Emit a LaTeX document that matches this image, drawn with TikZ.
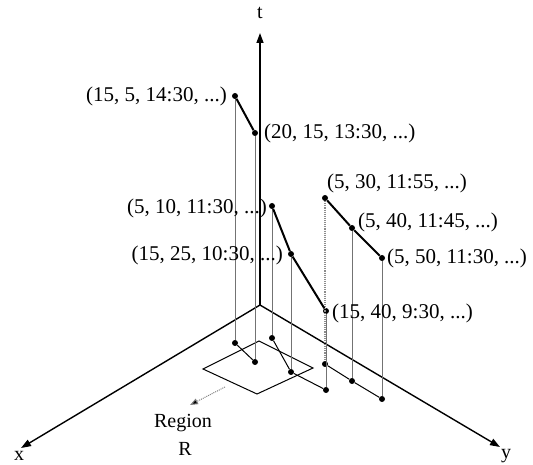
\documentclass[tikz,border=0pt]{standalone}
\usepackage{fontspec}
\setmainfont{Liberation Serif}
\usetikzlibrary{arrows.meta}
\begin{document}
\begin{tikzpicture}[x=1pt,y=-1pt,
  axis/.style={line width=1.4pt,-{Triangle[length=10pt,width=7pt]}},
  proj/.style={draw=black!55,line width=0.9pt},
  projdot/.style={draw=black!45,line width=1.1pt,densely dotted},
  traj/.style={line width=2pt},
  gtraj/.style={line width=1pt},
  dot/.style={circle,fill=black,inner sep=0pt,minimum size=6pt},
  lab/.style={inner sep=0pt,font=\fontsize{21}{23}\selectfont},
  slab/.style={inner sep=0pt,font=\fontsize{20}{22}\selectfont},
]
\useasboundingbox (0,0) rectangle (533,465);
% axes
\coordinate (O) at (260,305);
\coordinate (T) at (260,33);
\coordinate (X) at (21,448);
\coordinate (Y) at (500,447);
\draw[axis] (O) -- (T);
\draw[axis] (O) -- (X);
\draw[axis] (O) -- (Y);
\node[slab] (tl) at (260,13) {t};
\node[slab] (xl) at (19,456) {x};
\node[slab] (yl) at (506,456) {y};
% region R
\coordinate (r1) at (203,369);
\coordinate (r2) at (259,341);
\coordinate (r3) at (313,368);
\coordinate (r4) at (257,394);
\draw[line width=1pt] (r1) -- (r2) -- (r3) -- (r4) -- cycle;
\node[slab] (reg) at (183,423) {Region};
\node[slab] (regR) at (185,449) {R};
\coordinate (ra) at (225,387);
\coordinate (rb) at (190,405);
\draw[draw=black!50,line width=1pt,densely dotted,-{Triangle[length=8pt,width=6pt,fill=black]}] (ra) -- (rb);
% upper points
\node[dot] (a1) at (235,96) {};
\node[dot] (a2) at (255,133) {};
\node[dot] (b1) at (272,206) {};
\node[dot] (b2) at (291,254) {};
\node[dot] (b3) at (326,311) {};
\node[dot] (c1) at (325,198) {};
\node[dot] (c2) at (352,228) {};
\node[dot] (c3) at (382,258) {};
% ground points
\node[dot] (ga1) at (235,343) {};
\node[dot] (ga2) at (255,362) {};
\node[dot] (gb1) at (272,338) {};
\node[dot] (gb2) at (291,372) {};
\node[dot] (gb3) at (326,390) {};
\node[dot] (gc1) at (325,364) {};
\node[dot] (gc2) at (352,381) {};
\node[dot] (gc3) at (382,399) {};
% projections
\draw[proj] (a1) -- (ga1);
\draw[proj] (a2) -- (ga2);
\draw[proj] (b1) -- (gb1);
\draw[proj] (b2) -- (gb2);
\draw[proj] (b3) -- (gb3);
\draw[projdot] (c1) -- (gc1);
\draw[proj] (c2) -- (gc2);
\draw[proj] (c3) -- (gc3);
% trajectories
\draw[traj] (a1) -- (a2);
\draw[traj] (b1) -- (b2) -- (b3);
\draw[traj] (c1) -- (c2) -- (c3);
\draw[gtraj] (ga1) -- (ga2);
\draw[gtraj] (gb1) -- (gb2) -- (gb3);
\draw[gtraj] (gc1) -- (gc2) -- (gc3);
% labels
\node[lab,anchor=east] (la1) at (227,96) {(15, 5, 14:30, ...)};
\node[lab,anchor=west] (la2) at (264,133) {(20, 15, 13:30, ...)};
\node[lab,anchor=east] (lb1) at (267,208) {(5, 10, 11:30, ...)};
\node[lab,anchor=east] (lb2) at (283,255) {(15, 25, 10:30, ...)};
\node[lab,anchor=west] (lb3) at (332,313) {(15, 40, 9:30, ...)};
\node[lab,anchor=west] (lc1) at (327,183) {(5, 30, 11:55, ...)};
\node[lab,anchor=west] (lc2) at (358,222) {(5, 40, 11:45, ...)};
\node[lab,anchor=west] (lc3) at (387,258) {(5, 50, 11:30, ...)};
\end{tikzpicture}
\end{document}
